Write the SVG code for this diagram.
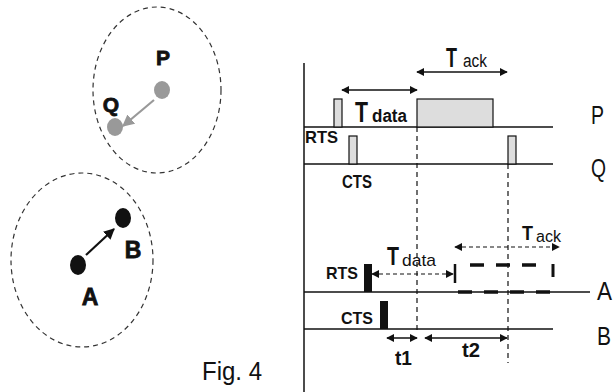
<svg xmlns="http://www.w3.org/2000/svg" width="613" height="392" viewBox="0 0 613 392">
<style>
.rng{fill:none;stroke:#333;stroke-width:1.2;stroke-dasharray:5 4}
.b{font-family:"Liberation Sans",Arial,sans-serif;font-weight:bold;fill:#111}
.hv{font-family:"Liberation Sans",Arial,sans-serif;font-weight:bold;fill:#111;stroke:#111;stroke-width:0.8}
.r{font-family:"Liberation Sans",Arial,sans-serif;fill:#111}
.ln{stroke:#111;stroke-width:1.5;fill:none}
.vd{stroke:#111;stroke-width:1.2;stroke-dasharray:5 4;fill:none}
.hd{stroke:#111;stroke-width:1.2;stroke-dasharray:4 3;fill:none}
.thk{stroke:#111;stroke-width:3.5;stroke-dasharray:14 12;fill:none}
.pl{fill:#ddd;stroke:#111;stroke-width:1.2}
.bk{fill:#111}
</style>
<defs>
<marker id="ah" viewBox="0 0 10 10" refX="9" refY="5" markerWidth="8" markerHeight="8" markerUnits="userSpaceOnUse" orient="auto-start-reverse"><path d="M0,0L10,5L0,10z" fill="#111"/></marker>
<marker id="ahg" viewBox="0 0 10 10" refX="9" refY="5" markerWidth="12" markerHeight="12" markerUnits="userSpaceOnUse" orient="auto"><path d="M0,0L10,5L0,10z" fill="#999"/></marker>
<marker id="ahb" viewBox="0 0 10 10" refX="9" refY="5" markerWidth="11" markerHeight="11" markerUnits="userSpaceOnUse" orient="auto"><path d="M0,0L10,5L0,10z" fill="#111"/></marker>
</defs>

<g id="range-PQ"><ellipse class="rng" cx="157" cy="90" rx="64" ry="83"/></g>
<g id="range-AB"><ellipse class="rng" cx="82" cy="260" rx="71" ry="87"/></g>

<g id="node-P"><ellipse cx="162" cy="90" rx="8" ry="9" fill="#999"/><text class="hv" x="163" y="65" font-size="21" text-anchor="middle">P</text></g>
<g id="node-Q"><ellipse cx="115" cy="127" rx="8" ry="9" fill="#999"/><text class="hv" x="111" y="112" font-size="21" text-anchor="middle">Q</text></g>
<g id="node-A"><ellipse cx="78" cy="265" rx="8" ry="10" fill="#111"/><text class="hv" x="90" y="305" font-size="23" text-anchor="middle">A</text></g>
<g id="node-B"><ellipse cx="123" cy="218" rx="8" ry="10" fill="#111"/><text class="hv" x="133" y="258" font-size="23" text-anchor="middle">B</text></g>

<g id="connectors">
<line x1="154" y1="100" x2="123" y2="126" stroke="#999" stroke-width="2.2" marker-end="url(#ahg)"/>
<line x1="86" y1="255" x2="114" y2="229" stroke="#111" stroke-width="2.2" marker-end="url(#ahb)"/>
</g>

<text class="r" x="202" y="380" font-size="25" textLength="60" lengthAdjust="spacingAndGlyphs">Fig. 4</text>

<g id="timing">
<line class="ln" x1="304" y1="63" x2="304" y2="392"/>
<line class="ln" x1="304" y1="127" x2="553" y2="127"/>
<line class="ln" x1="304" y1="164" x2="553" y2="164"/>
<line class="ln" x1="304" y1="292" x2="590" y2="292"/>
<line class="ln" x1="304" y1="329" x2="553" y2="329"/>

<rect class="pl" x="334" y="99" width="8" height="28"/>
<rect class="pl" x="349" y="136" width="8" height="28"/>
<rect class="pl" x="417" y="99" width="76" height="28"/>
<rect class="pl" x="508" y="136" width="8" height="28"/>

<rect class="bk" x="364" y="264" width="8" height="28"/>
<rect class="bk" x="380" y="301" width="8" height="28"/>

<line class="vd" x1="417" y1="127" x2="417" y2="334"/>
<line class="vd" x1="508" y1="164" x2="508" y2="363"/>

<line class="ln" x1="342" y1="90" x2="417" y2="90" stroke-width="1.8" marker-start="url(#ah)" marker-end="url(#ah)"/>
<line class="ln" x1="417" y1="72" x2="507" y2="72" stroke-width="1.8" marker-start="url(#ah)" marker-end="url(#ah)"/>

<line class="hd" x1="372" y1="274" x2="453" y2="274" marker-start="url(#ah)" marker-end="url(#ah)"/>
<line class="hd" x1="455" y1="247" x2="559" y2="247" marker-start="url(#ah)" marker-end="url(#ah)"/>

<line stroke="#111" stroke-width="2.5" x1="455" y1="264" x2="455" y2="283"/>
<line class="thk" x1="470" y1="265" x2="540" y2="265"/>
<line stroke="#111" stroke-width="3" x1="553" y1="264" x2="553" y2="277"/>
<line class="thk" x1="458" y1="292" x2="552" y2="292"/>

<line class="ln" x1="387" y1="338" x2="417" y2="338" stroke-width="1.8" marker-start="url(#ah)" marker-end="url(#ah)"/>
<line class="ln" x1="425" y1="338" x2="507" y2="338" stroke-width="1.8" marker-start="url(#ah)" marker-end="url(#ah)"/>

<text class="b" x="355" y="122" font-size="30" textLength="13" lengthAdjust="spacingAndGlyphs">T</text>
<text class="b" x="372" y="122" font-size="18" textLength="35" lengthAdjust="spacingAndGlyphs">data</text>
<text class="b" x="446" y="67" font-size="28" textLength="11" lengthAdjust="spacingAndGlyphs">T</text>
<text class="r" x="463" y="67" font-size="18" textLength="24" lengthAdjust="spacingAndGlyphs">ack</text>

<text class="b" x="387" y="265" font-size="25" textLength="12" lengthAdjust="spacingAndGlyphs">T</text>
<text class="r" x="402" y="266" font-size="17" textLength="34" lengthAdjust="spacingAndGlyphs">data</text>
<text class="b" x="522" y="240" font-size="21" textLength="11" lengthAdjust="spacingAndGlyphs">T</text>
<text class="r" x="536" y="242" font-size="16" textLength="25" lengthAdjust="spacingAndGlyphs">ack</text>

<text class="b" x="305" y="143" font-size="17" textLength="33" lengthAdjust="spacingAndGlyphs">RTS</text>
<text class="b" x="342" y="188" font-size="18" textLength="30" lengthAdjust="spacingAndGlyphs">CTS</text>
<text class="b" x="326" y="279" font-size="17" textLength="32" lengthAdjust="spacingAndGlyphs">RTS</text>
<text class="b" x="341" y="324" font-size="16" textLength="32" lengthAdjust="spacingAndGlyphs">CTS</text>
<text class="b" x="395" y="365" font-size="20" textLength="17" lengthAdjust="spacingAndGlyphs">t1</text>
<text class="b" x="462" y="357" font-size="20" textLength="18" lengthAdjust="spacingAndGlyphs">t2</text>

<text class="r" x="591" y="124" font-size="25" textLength="13" lengthAdjust="spacingAndGlyphs">P</text>
<text class="r" x="591" y="177" font-size="25" textLength="15" lengthAdjust="spacingAndGlyphs">Q</text>
<text class="r" x="597" y="300" font-size="25" textLength="15" lengthAdjust="spacingAndGlyphs">A</text>
<text class="r" x="597" y="345" font-size="25" textLength="14" lengthAdjust="spacingAndGlyphs">B</text>
</g>
</svg>
